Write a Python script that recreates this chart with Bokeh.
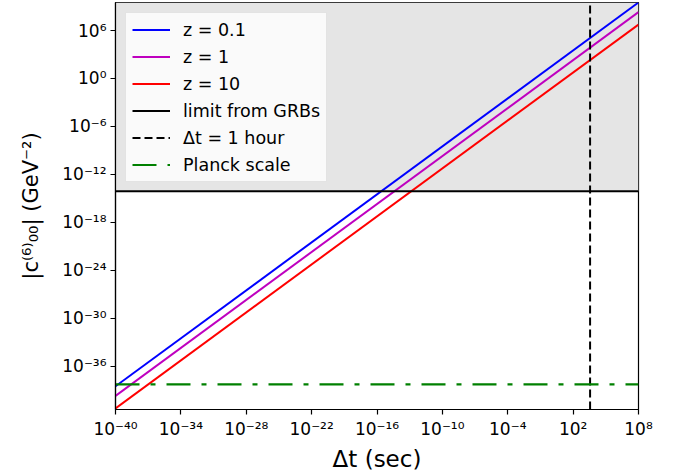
from bokeh.plotting import figure
from bokeh.models import (Range1d, FixedTicker, CustomJSTickFormatter, Legend, LegendItem)
from bokeh.embed import file_html
from bokeh.resources import INLINE

# ---- data ----
dt = [1e-40, 1e8]                      # Δt (sec) endpoints of the lines
c_z01 = [3.2e-39, 3.2e9]               # z = 0.1
c_z1 = [2.0e-40, 2.0e8]                # z = 1
c_z10 = [5.6e-42, 5.6e6]               # z = 10
grb_limit = 8e-15                      # limit from GRBs
planck = 5.6e-39                       # Planck scale
one_hour = 3600.0                      # Δt = 1 hour
x_lo, x_hi = 1e-40, 1e8
y_lo, y_hi = 4e-42, 3.2e9
x_ticks = [1e-40, 1e-34, 1e-28, 1e-22, 1e-16, 1e-10, 1e-4, 1e2, 1e8]
y_ticks = [1e-36, 1e-30, 1e-24, 1e-18, 1e-12, 1e-6, 1e0, 1e6]

FONT = "DejaVu Sans"

p = figure(width=678, height=474, x_axis_type="log", y_axis_type="log",
           x_range=Range1d(x_lo, x_hi), y_range=Range1d(y_lo, y_hi),
           output_backend="svg", toolbar_location=None,
           min_border_left=115, min_border_right=40,
           min_border_top=2, min_border_bottom=65)
p.background_fill_color = "white"
p.border_fill_color = "white"
p.outline_line_color = "black"
p.outline_line_width = 1.2
p.grid.visible = False

# shaded excluded region
p.varea(x=[x_lo, x_hi], y1=[grb_limit, grb_limit], y2=[y_hi, y_hi],
        fill_color="#e5e5e5", level="underlay")

r1 = p.line(dt, c_z01, line_color="blue", line_width=2)
r2 = p.line(dt, c_z1, line_color="#bf00bf", line_width=2)
r3 = p.line(dt, c_z10, line_color="red", line_width=2)
r4 = p.line([x_lo, x_hi], [grb_limit, grb_limit], line_color="black", line_width=2)
r5 = p.line([one_hour, one_hour], [y_lo, y_hi], line_color="black", line_width=2,
            line_dash="8 4")
r6 = p.line([x_lo, x_hi], [planck, planck], line_color="green", line_width=2.2,
            line_dash="24 11 5 11")

legend = Legend(items=[
    LegendItem(label="z = 0.1", renderers=[r1]),
    LegendItem(label="z = 1", renderers=[r2]),
    LegendItem(label="z = 10", renderers=[r3]),
    LegendItem(label="limit from GRBs", renderers=[r4]),
    LegendItem(label="Δt = 1 hour", renderers=[r5]),
    LegendItem(label="Planck scale", renderers=[r6]),
], location="top_left")
legend.margin = 10
legend.padding = 6
legend.spacing = 6
legend.glyph_width = 38
legend.glyph_height = 21
legend.label_standoff = 13
legend.label_text_font = FONT
legend.label_text_font_size = "17.5px"
legend.label_text_color = "black"
legend.label_height = 21
legend.background_fill_color = "white"
legend.background_fill_alpha = 0.8
legend.border_line_color = "#cccccc"
legend.border_line_width = 1
p.add_layout(legend)

sup_js = """
const e = Math.round(Math.log10(tick));
const m = {'-':'\u207b','0':'\u2070','1':'\u00b9','2':'\u00b2','3':'\u00b3','4':'\u2074',
           '5':'\u2075','6':'\u2076','7':'\u2077','8':'\u2078','9':'\u2079'};
return '10' + String(e).split('').map(c => m[c]).join('');
"""

for ax, ticks in ((p.xaxis[0], x_ticks), (p.yaxis[0], y_ticks)):
    ax.ticker = FixedTicker(ticks=ticks, minor_ticks=[])
    ax.formatter = CustomJSTickFormatter(code=sup_js)
    ax.major_label_text_font = FONT
    ax.major_label_text_font_size = "17px"
    ax.major_label_text_color = "black"
    ax.axis_label_text_font = FONT
    ax.axis_label_text_font_size = "23px"
    ax.axis_label_text_font_style = "normal"
    ax.axis_label_text_color = "black"
    ax.axis_line_color = "black"
    ax.axis_line_width = 1.2
    ax.major_tick_line_color = "black"
    ax.major_tick_line_width = 1.2
    ax.major_tick_out = 5
    ax.major_tick_in = 0
    ax.minor_tick_out = 0
    ax.minor_tick_in = 0
    ax.major_label_standoff = 4

p.xaxis.axis_label = "Δt (sec)"
p.yaxis.axis_label = "|c\u207d\u2076\u207e\u2080\u2080| (GeV\u207b\u00b2)"
p.yaxis.axis_label_text_font_size = "21px"
p.xaxis.axis_label_standoff = 4
p.yaxis.axis_label_standoff = 16

open("out.html", "w").write(file_html(p, INLINE))
